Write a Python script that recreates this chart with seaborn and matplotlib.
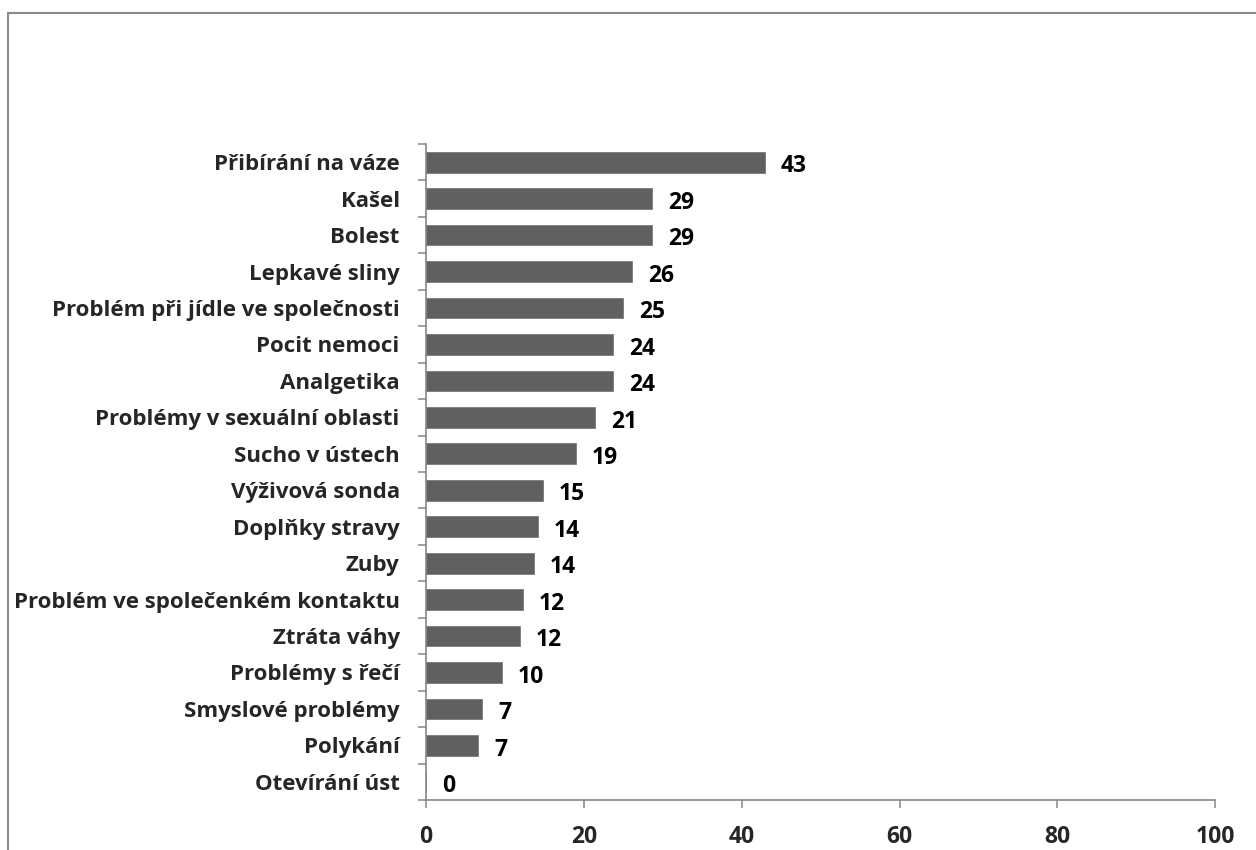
import matplotlib
matplotlib.use("Agg")
import matplotlib.pyplot as plt
import seaborn as sns
import pandas as pd
import numpy as np
from matplotlib.lines import Line2D

categories = [
    "Přibírání na váze", "Kašel", "Bolest", "Lepkavé sliny",
    "Problém při jídle ve společnosti", "Pocit nemoci", "Analgetika",
    "Problémy v sexuální oblasti", "Sucho v ústech", "Výživová sonda",
    "Doplňky stravy", "Zuby", "Problém ve společenkém kontaktu",
    "Ztráta váhy", "Problémy s řečí", "Smyslové problémy", "Polykání",
    "Otevírání úst",
]
values = [42.9, 28.6, 28.6, 26.1, 25.0, 23.7, 23.7, 21.4, 19.0, 14.8,
          14.2, 13.7, 12.3, 11.9, 9.6, 7.1, 6.6, 0.0]
xticks = [0, 20, 40, 60, 80, 100]

df = pd.DataFrame({"cat": categories, "val": values})

sns.set_style("white")
plt.rcParams["font.family"] = ["Open Sans", "DejaVu Sans"]
plt.rcParams["font.weight"] = "bold"
FS = 16
FS_NUM = 16.5

fig = plt.figure(figsize=(12.56, 8.5), dpi=100)
ax = fig.add_axes([0.3392, 0.0588, 0.6284, 0.7718])

sns.barplot(data=df, x="val", y="cat", orient="h", color="#606060",
            saturation=1, width=0.57, edgecolor="#7a7a7a", linewidth=0.6, ax=ax)

for i, v in enumerate(values):
    ax.annotate(f"{v:.0f}", (v, i), xytext=(11.5, -3), textcoords="offset points",
                ha="left", va="center", fontsize=FS_NUM, fontweight="bold", color="black")

ax.set_xlim(0, 100)
ax.set_ylim(len(categories) - 0.5, -0.5)
ax.set_xticks(xticks)
ax.set_xticklabels([str(t) for t in xticks], fontsize=FS_NUM, fontweight="bold")
ax.set_yticks(range(len(categories)))
ax.set_yticklabels(categories, fontsize=FS, fontweight="bold")
ax.set_yticks(np.arange(-0.5, len(categories) + 0.5, 1), minor=True)
ax.tick_params(axis="y", which="major", length=0, pad=19)
ax.tick_params(axis="y", which="minor", length=6, width=1.1, color="#868686", direction="out", left=True)
ax.tick_params(axis="x", which="major", length=6, width=1.1, color="#868686", direction="out", bottom=True, pad=12)
ax.set_xlabel("")
ax.set_ylabel("")

for s in ["top", "right"]:
    ax.spines[s].set_visible(False)
for s in ["left", "bottom"]:
    ax.spines[s].set_color("#868686")
    ax.spines[s].set_linewidth(1.2)

# outer chart border (top and left edges visible)
fig.add_artist(Line2D([8 / 1256, 1.0], [1 - 13 / 850, 1 - 13 / 850], transform=fig.transFigure,
                      color="#8a8a8a", linewidth=1.5))
fig.add_artist(Line2D([8 / 1256, 8 / 1256], [0, 1 - 13 / 850], transform=fig.transFigure,
                      color="#8a8a8a", linewidth=1.5))

fig.savefig("out.png", dpi=100)
